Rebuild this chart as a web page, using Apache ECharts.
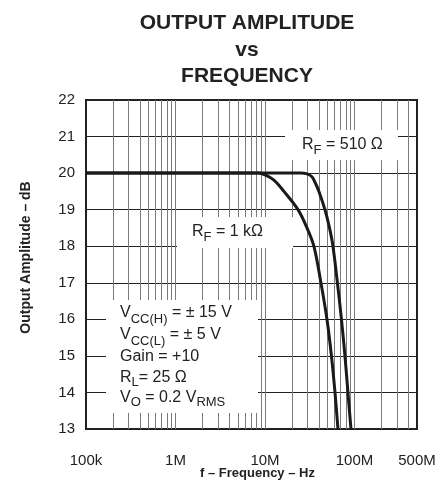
<!DOCTYPE html>
<html><head><meta charset="utf-8">
<script src="https://cdn.jsdelivr.net/npm/echarts@6/dist/echarts.min.js"></script>
<style>html,body{margin:0;padding:0;background:#fff}#c{width:447px;height:482px}</style>
</head><body><div id="c"></div>
<script>
// ---- data ----
const freq1k  = [1e5, 8.5e6, 1.0e7, 1.26e7, 1.63e7, 2.34e7, 2.95e7, 3.52e7, 4.22e7, 4.93e7, 5.53e7, 6.06e7, 6.54e7];
const amp1k   = [20, 20, 19.95, 19.81, 19.5, 19.0, 18.5, 18.0, 17.0, 16.0, 15.0, 14.0, 13.0];
const freq510 = [1e5, 2.5e7, 2.95e7, 3.35e7, 3.62e7, 4.01e7, 4.68e7, 5.26e7, 5.75e7, 6.45e7, 7.16e7, 7.83e7, 8.46e7, 9.14e7];
const amp510  = [20, 20, 19.98, 19.9, 19.75, 19.5, 19.0, 18.5, 18.0, 17.0, 16.0, 15.0, 14.0, 13.0];
const xTickValues = [1e5, 1e6, 1e7, 1e8, 5e8];
const xTickLabels = ['100k', '1M', '10M', '100M', '500M'];
const xGridValues = [2e5, 3e5, 4e5, 5e5, 6e5, 7e5, 8e5, 9e5, 1e6,
                     2e6, 3e6, 4e6, 5e6, 6e6, 7e6, 8e6, 9e6, 1e7,
                     2e7, 3e7, 4e7, 5e7, 6e7, 7e7, 8e7, 9e7, 1e8,
                     2e8, 3e8, 4e8];
const yMin = 13, yMax = 22, yStep = 1;

const zip = (xs, ys) => xs.map((x, i) => [x, ys[i]]);
const FONT = 'Liberation Sans, Arial, Helvetica, sans-serif';
const TXT = '#222';

function fmtX(v) {
  for (let i = 0; i < xTickValues.length; i++) {
    if (Math.abs(Math.log10(v) - Math.log10(xTickValues[i])) < 1e-6) return xTickLabels[i];
  }
  return '';
}

const richBase = (subH) => ({
  n: { fontSize: 16, fontFamily: FONT, height: 16, lineHeight: 16, verticalAlign: 'top', fill: TXT },
  s: { fontSize: 13, fontFamily: FONT, height: subH, lineHeight: subH, verticalAlign: 'top', fill: TXT }
});
function label(x, y, text, subH) {
  return { type: 'text', x: x, y: y, z: 11, silent: true,
    style: { text: text, rich: richBase(subH), align: 'left', verticalAlign: 'top', fill: TXT, font: '16px ' + FONT } };
}

const chart = echarts.init(document.getElementById('c'), null, { renderer: 'canvas' });
chart.setOption({
  animation: false,
  backgroundColor: '#fff',
  title: {
    text: 'OUTPUT AMPLITUDE\nvs\nFREQUENCY',
    left: 247, top: 10, textAlign: 'center', padding: 0,
    textStyle: { fontFamily: FONT, fontSize: 21, fontWeight: 'bold', color: TXT, lineHeight: 26.5 }
  },
  grid: { left: 86, right: 30, top: 100, bottom: 53, containLabel: false, outerBoundsMode: 'none',
          show: true, borderColor: '#222', borderWidth: 2, backgroundColor: 'transparent' },
  xAxis: {
    type: 'log', logBase: 10, min: 1e5, max: 5e8,
    name: 'f – Frequency – Hz', nameLocation: 'middle', nameGap: 38, nameMoveOverlap: false,
    nameTextStyle: { fontFamily: FONT, fontSize: 13, fontWeight: 'bold', color: TXT, padding: [0, 0, 0, 12] },
    axisLine: { show: true, lineStyle: { color: '#222', width: 2 } },
    axisTick: { show: false },
    splitLine: { show: false },
    minorTick: { show: false },
    axisLabel: { formatter: fmtX, margin: 24, fontFamily: FONT, fontSize: 15, color: TXT, showMinLabel: true, showMaxLabel: true }
  },
  yAxis: {
    type: 'value', min: yMin, max: yMax, interval: yStep,
    name: 'Output Amplitude – dB', nameLocation: 'middle', nameGap: 53, nameMoveOverlap: false,
    nameTextStyle: { fontFamily: FONT, fontSize: 14, fontWeight: 'bold', color: TXT, padding: [0, 0, 0, 14] },
    axisLine: { show: true, lineStyle: { color: '#222', width: 2 } },
    axisTick: { show: false },
    splitLine: { show: true, lineStyle: { color: '#222', width: 1 } },
    axisLabel: { margin: 11, fontFamily: FONT, fontSize: 15, color: TXT }
  },
  series: [
    {
      name: 'RF = 1 kΩ', type: 'line', data: zip(freq1k, amp1k), z: 3,
      showSymbol: false, smooth: 0.35,
      lineStyle: { color: '#1a1a1a', width: 3 },
      markLine: {
        silent: true, z: 1, symbol: ['none', 'none'], label: { show: false }, animation: false,
        lineStyle: { color: '#7a7a7a', width: 1, type: 'solid' },
        emphasis: { disabled: true },
        data: xGridValues.map(v => ({ xAxis: v }))
      }
    },
    {
      name: 'RF = 510 Ω', type: 'line', data: zip(freq510, amp510), z: 3,
      showSymbol: false, smooth: 0.35,
      lineStyle: { color: '#1a1a1a', width: 3 }
    }
  ],
  graphic: [
    { type: 'rect', z: 10, silent: true, shape: { x: 285, y: 130, width: 113, height: 30 }, style: { fill: '#fff' } },
    label(302, 136.5, '{n|R}{s|F}{n| = 510 Ω}', 28),
    { type: 'rect', z: 10, silent: true, shape: { x: 177, y: 217, width: 116, height: 31 }, style: { fill: '#fff' } },
    label(192, 223.5, '{n|R}{s|F}{n| = 1 kΩ}', 28),
    { type: 'rect', z: 10, silent: true, shape: { x: 106, y: 300, width: 152, height: 113 }, style: { fill: '#fff' } },
    label(120, 304.5, '{n|V}{s|CC(H)}{n| = ± 15 V}', 30),
    label(120, 326.5, '{n|V}{s|CC(L)}{n| = ± 5 V}', 30),
    label(120, 348.5, '{n|Gain = +10}', 16),
    label(120, 369.5, '{n|R}{s|L}{n|= 25 Ω}', 26),
    label(120, 389.5, '{n|V}{s|O}{n| = 0.2 V}{s|RMS}', 26)
  ]
});
</script>
</body></html>
